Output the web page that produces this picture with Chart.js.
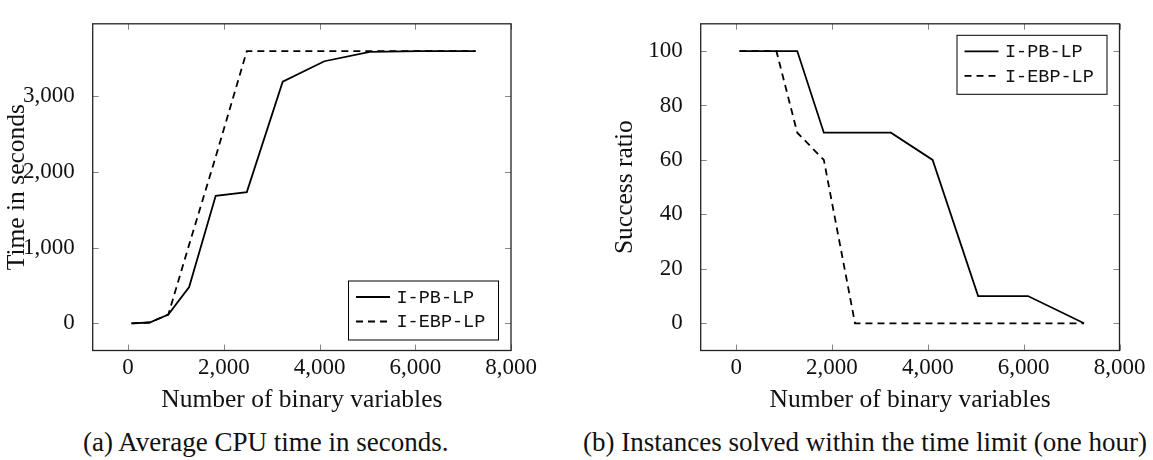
<!DOCTYPE html>
<html>
<head>
<meta charset="utf-8">
<script src="https://cdn.jsdelivr.net/npm/chart.js@4.4.1/dist/chart.umd.min.js"></script>
<style>
  body { margin: 0; background: #fff; width: 1153px; height: 460px; overflow: hidden; position: relative; }
  canvas { position: absolute; top: 0; }
  #graficoA { left: 0; }
  #graficoB { left: 580px; }
  .caption { position: absolute; top: 427px; line-height: 32px; font: 27px 'Liberation Serif', serif; color: #111; white-space: nowrap; }
  #capA { left: 83px; }
  #capB { left: 583px; }
</style>
</head>
<body>
<canvas id="graficoA" width="560" height="420"></canvas>
<canvas id="graficoB" width="573" height="420"></canvas>
<div class="caption" id="capA">(a) Average CPU time in seconds.</div>
<div class="caption" id="capB">(b) Instances solved within the time limit (one hour)</div>
<script>
// numero de variables binarias (eje x, compartido)
const variables = [70, 450, 840, 1275, 1830, 2480, 3230, 4100, 5050, 6090, 7260];

// tiempo promedio en segundos
const tiempoPB = [0, 10, 115, 480, 1685, 1735, 3195, 3465, 3590, 3600, 3600];
const tiempoEBP = [0, 10, 115, 1040, 2200, 3600, 3600, 3600, 3600, 3600, 3600];

// porcentaje de instancias resueltas
const exitoPB = [100, 100, 100, 100, 70, 70, 70, 60, 10, 10, 0];
const exitoEBP = [100, 100, 100, 70, 60, 0, 0, 0, 0, 0, 0];

// marcas de los ejes
const marcasX = [0, 2000, 4000, 6000, 8000];
const marcasTiempo = [0, 1000, 2000, 3000];
const marcasExito = [0, 20, 40, 60, 80, 100];

const etiquetas = ['I-PB-LP', 'I-EBP-LP'];
const tituloX = 'Number of binary variables';

const serif = "'Liberation Serif', serif";
const mono = "'Liberation Mono', monospace";

function puntos(valores) {
    return variables.map((x, i) => ({ x: x, y: valores[i] }));
}

function serie(label, valores, rayado) {
    return {
        label: label,
        data: puntos(valores),
        borderColor: '#000',
        borderWidth: 1.8,
        borderDash: rayado ? [7, 5] : [],
        pointRadius: 0,
        tension: 0,
        fill: false
    };
}

// marco, marcas interiores y leyenda con recuadro (estilo pgfplots)
const marco = {
    id: 'marco',
    beforeDatasetsDraw(chart) {
        const ctx = chart.ctx;
        const a = chart.chartArea;
        const largo = 6;
        ctx.save();
        ctx.strokeStyle = '#888';
        ctx.lineWidth = 1;
        ctx.beginPath();
        chart.scales.x.ticks.forEach(t => {
            const px = Math.round(chart.scales.x.getPixelForValue(t.value)) + 0.5;
            ctx.moveTo(px, a.bottom); ctx.lineTo(px, a.bottom - largo);
            ctx.moveTo(px, a.top); ctx.lineTo(px, a.top + largo);
        });
        chart.scales.y.ticks.forEach(t => {
            const py = Math.round(chart.scales.y.getPixelForValue(t.value)) + 0.5;
            ctx.moveTo(a.left, py); ctx.lineTo(a.left + largo, py);
            ctx.moveTo(a.right, py); ctx.lineTo(a.right - largo, py);
        });
        ctx.stroke();
        ctx.restore();
    },
    afterDraw(chart, args, opts) {
        const ctx = chart.ctx;
        const a = chart.chartArea;
        ctx.save();
        ctx.strokeStyle = '#222';
        ctx.lineWidth = 1.3;
        ctx.strokeRect(a.left, a.top, a.right - a.left, a.bottom - a.top);

        // leyenda
        const w = 150, h = 59;
        const bx = a.right - 13 - w;
        const by = opts.esquina === 'abajo' ? a.bottom - 11 - h : a.top + 11;
        ctx.fillStyle = '#fff';
        ctx.fillRect(bx, by, w, h);
        ctx.strokeStyle = '#000';
        ctx.lineWidth = 1;
        ctx.strokeRect(bx + 0.5, by + 0.5, w, h);
        ctx.font = '18.5px ' + mono;
        ctx.textBaseline = 'middle';
        ctx.textAlign = 'left';
        chart.data.datasets.forEach((ds, i) => {
            const yy = by + 16.5 + i * 24.5;
            ctx.strokeStyle = ds.borderColor;
            ctx.lineWidth = ds.borderWidth;
            ctx.setLineDash(ds.borderDash);
            ctx.beginPath();
            ctx.moveTo(bx + 8, yy);
            ctx.lineTo(bx + 42, yy);
            ctx.stroke();
            ctx.setLineDash([]);
            ctx.fillStyle = '#111';
            ctx.fillText(ds.label, bx + 48.5, yy + 1);
        });
        ctx.restore();
    }
};

function opciones(cfg) {
    return {
        responsive: false,
        animation: false,
        layout: { padding: { top: 3.3, bottom: 4.5, left: cfg.izq, right: cfg.der } },
        plugins: {
            legend: { display: false },
            tooltip: { enabled: false },
            marco: { esquina: cfg.esquina }
        },
        scales: {
            x: {
                type: 'linear',
                min: -740,
                max: 8000,
                grid: { display: false },
                border: { display: false },
                ticks: {
                    maxRotation: 0,
                    autoSkip: false,
                    padding: -2,
                    color: '#111',
                    font: { family: serif, size: 23, lineHeight: 1 },
                    callback: v => v.toLocaleString('en-US')
                },
                afterBuildTicks(s) { s.ticks = marcasX.map(v => ({ value: v })); },
                title: {
                    display: true,
                    text: tituloX,
                    color: '#111',
                    padding: 0,
                    font: { family: serif, size: 25.5, lineHeight: 1.2 }
                },
                afterFit(s) { s.height = 65; }
            },
            y: {
                min: cfg.ymin,
                max: cfg.ymax,
                grid: { display: false },
                border: { display: false },
                ticks: {
                    padding: 10,
                    color: '#111',
                    font: { family: serif, size: 23 },
                    callback: v => v.toLocaleString('en-US')
                },
                afterBuildTicks(s) { s.ticks = cfg.marcasY.map(v => ({ value: v })); },
                title: {
                    display: true,
                    text: cfg.tituloY,
                    color: '#111',
                    padding: 0,
                    font: { family: serif, size: 25.5, lineHeight: 1.2 }
                },
                afterFit(s) { s.width = cfg.anchoY; }
            }
        }
    };
}

new Chart(document.getElementById('graficoA'), {
    type: 'line',
    data: { datasets: [serie(etiquetas[0], tiempoPB, false), serie(etiquetas[1], tiempoEBP, true)] },
    options: opciones({ izq: 1.7, der: 49, anchoY: 91, ymin: -360, ymax: 3960, marcasY: marcasTiempo, tituloY: 'Time in seconds', esquina: 'abajo' }),
    plugins: [marco]
});

new Chart(document.getElementById('graficoB'), {
    type: 'line',
    data: { datasets: [serie(etiquetas[0], exitoPB, false), serie(etiquetas[1], exitoEBP, true)] },
    options: opciones({ izq: 30, der: 33.5, anchoY: 90.7, ymin: -10, ymax: 110, marcasY: marcasExito, tituloY: 'Success ratio', esquina: 'arriba' }),
    plugins: [marco]
});
</script>
</body>
</html>
